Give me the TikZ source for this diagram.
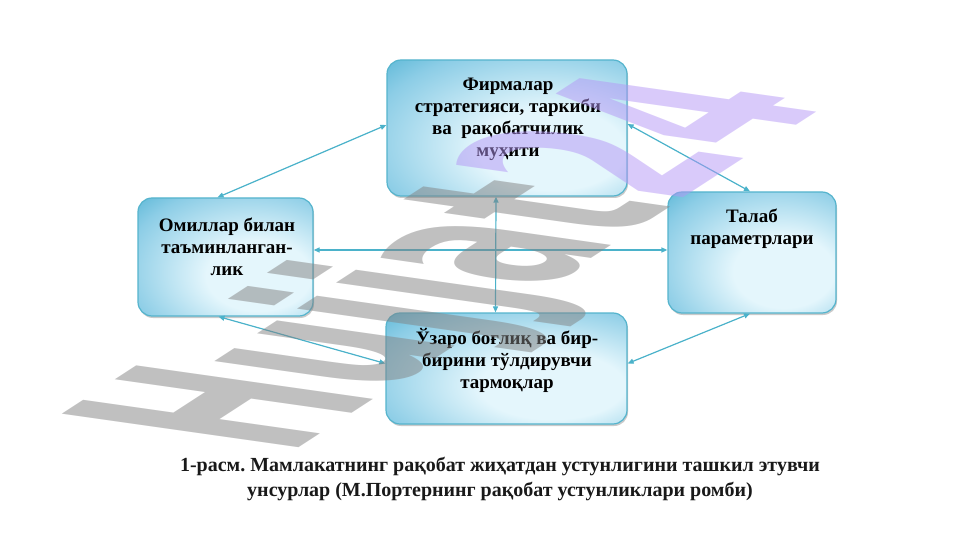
\documentclass[tikz,border=0pt]{standalone}
\usepackage{fontspec}
\setmainfont{Liberation Serif}
\newfontfamily\wmfont{DejaVu Sans}
\usetikzlibrary{arrows.meta,shadows}
\definecolor{boxdark}{RGB}{62,170,205}
\definecolor{boxmid}{RGB}{140,205,230}
\definecolor{boxlight}{RGB}{228,246,252}
\definecolor{boxedge}{RGB}{85,180,205}
\definecolor{arrowc}{RGB}{75,178,202}
\definecolor{wmgray}{RGB}{130,130,130}
\definecolor{wmpurple}{RGB}{180,150,245}
\pgfdeclareradialshading{boxglow}{\pgfpoint{12bp}{-10bp}}{color(0bp)=(boxlight); color(15bp)=(boxlight); color(35bp)=(boxmid); color(48bp)=(boxdark); color(71bp)=(boxdark)}
\tikzset{
  box/.style={rectangle, rounded corners=14pt, draw=boxedge, line width=1.2pt, shading=boxglow,
    drop shadow={shadow xshift=1pt, shadow yshift=-2pt, opacity=0.35, fill=black!60}, inner sep=0pt},
  arr/.style={draw=arrowc, line width=1.2pt, {Triangle[length=6pt,width=5pt]}-{Triangle[length=6pt,width=5pt]}, fill=arrowc},
  boxtext/.style={font=\bfseries\fontsize{19}{22}\selectfont, align=center, inner sep=0pt, text=black},
  captext/.style={font=\bfseries\fontsize{20}{25}\selectfont\frenchspacing, align=center, inner sep=0pt, text=black!90},
}
\begin{document}
\begin{tikzpicture}[x=1pt,y=-1pt]
\useasboundingbox (0,0) rectangle (961,540);
% boxes
\node[box, minimum width=240pt, minimum height=136pt] (T) at (507,128) {};
\node[box, minimum width=175pt, minimum height=118pt] (L) at (225.5,257) {};
\node[box, minimum width=168pt, minimum height=121pt] (R) at (752,252.5) {};
\node[box, minimum width=241pt, minimum height=111pt] (B) at (506.5,368.5) {};
% connectors
\draw[arr] ([xshift=-8pt]L.north) -- ([yshift=3pt]T.west);
\draw[arr] ([yshift=4pt]T.east) -- ([xshift=-2pt]R.north);
\draw[arr] ([yshift=7pt]L.east) -- ([yshift=2.5pt]R.west);
\draw[arr] ([xshift=-11pt]T.south) -- ([xshift=-11pt]B.north);
\draw[arr] ([xshift=-7pt]L.south) -- ([yshift=5pt]B.west);
\draw[arr] ([yshift=5pt]B.east) -- ([xshift=-2pt]R.south);
% box texts
\node[boxtext] (Tt) at (508,119.5) {Фирмалар\\стратегияси, таркиби\\ва\ \ рақобатчилик\\муҳити};
\node[boxtext] (Lt) at (227,246.5) {Омиллар билан\\таъминланган-\\лик};
\node[boxtext] (Rt) at (752,229) {Талаб\\параметрлари};
\node[boxtext] (Bt) at (507,360) {Ўзаро боғлиқ ва бир-\\бирини тўлдирувчи\\тармоқлар};
% caption
\node[captext] (cap) at (500,478.5) {1-расм. Мамлакатнинг рақобат жиҳатдан устунлигини ташкил этувчи\\унсурлар (М.Портернинг рақобат устунликлари ромби)};
% watermark
\begin{scope}[shift={(288,455)}, cm={2.85,1.85,-8.12,1.15,(0,0)}]
\node[transform shape, anchor=base west, inner sep=0pt, text opacity=0.5] (wm) at (0,0)
  {\wmfont\bfseries\fontsize{40}{40}\selectfont\textcolor{wmgray}{Hujjat}\textcolor{wmpurple}{24}};
\end{scope}
\end{tikzpicture}
\end{document}
